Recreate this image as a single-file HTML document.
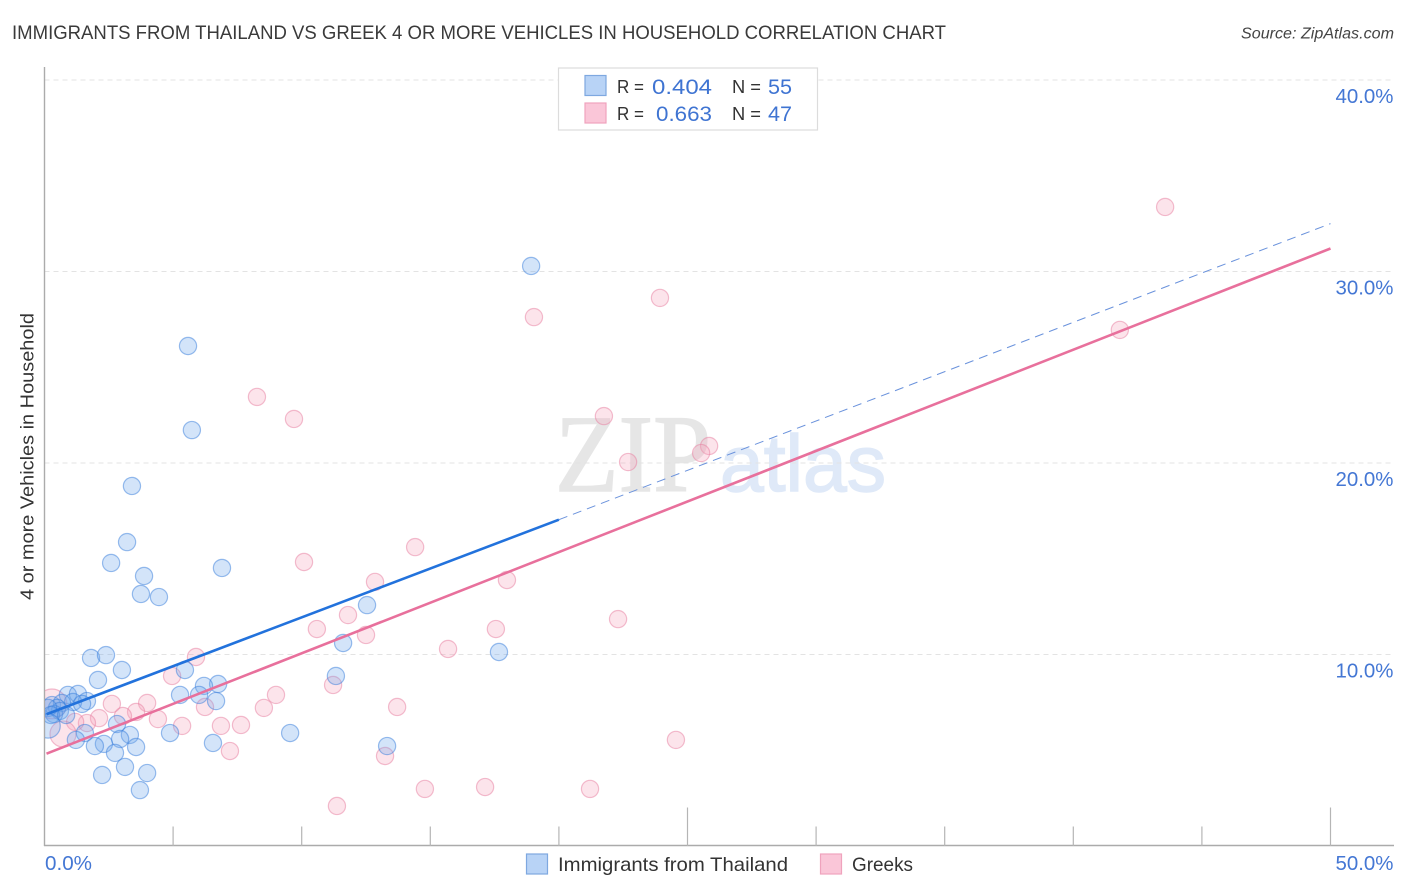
<!DOCTYPE html>
<html lang="en">
<head>
<meta charset="utf-8">
<title>Immigrants from Thailand vs Greek 4 or more Vehicles in Household Correlation Chart</title>
<style>
html,body{margin:0;padding:0;background:#fff;width:1406px;height:892px;overflow:hidden}
svg{display:block;font-family:"Liberation Sans",sans-serif}
</style>
</head>
<body>
<svg id="chart" width="1406" height="892" viewBox="0 0 1406 892" xmlns="http://www.w3.org/2000/svg">
  <defs>
    <clipPath id="plot-clip"><rect x="45" y="60" width="1349" height="786"/></clipPath>
  </defs>
  <text x="12" y="39" font-size="19.5" fill="#3a3a3a" textLength="934" lengthAdjust="spacingAndGlyphs">IMMIGRANTS FROM THAILAND VS GREEK 4 OR MORE VEHICLES IN HOUSEHOLD CORRELATION CHART</text>
  <text x="1241" y="38.500" font-size="15.500" font-style="italic" fill="#444" textLength="153" lengthAdjust="spacingAndGlyphs">Source: ZipAtlas.com</text>
  <g>
    <text x="555" y="491" font-family="'Liberation Serif',serif" font-size="110" fill="#e6e6e6" stroke="#e6e6e6" stroke-width="1.500" textLength="156" lengthAdjust="spacingAndGlyphs">ZIP</text>
    <text x="720" y="491" font-size="80" fill="#dfe9f8" stroke="#dfe9f8" stroke-width="1.500" textLength="166" lengthAdjust="spacingAndGlyphs">atlas</text>
  </g>
  <g id="grid"></g>
  <g id="axes"></g>
  <g id="points" clip-path="url(#plot-clip)"></g>
  <g id="trends"></g>
  <text transform="translate(33.500,600) rotate(-90)" x="0" y="0" font-size="18.500" fill="#333" textLength="287" lengthAdjust="spacingAndGlyphs">4 or more Vehicles in Household</text>
  <g>
    <rect x="558.500" y="68" width="259" height="62" fill="#fff" stroke="#dcdcdc" stroke-width="1.200"/>
    <rect x="585" y="75.500" width="21" height="20" fill="#b8d3f6" stroke="#7ea8e0" stroke-width="1.200"/>
    <rect x="585" y="103" width="21" height="20" fill="#fac6d8" stroke="#efa3bd" stroke-width="1.200"/>
    <text x="617" y="93" font-size="18.500" fill="#333" textLength="27" lengthAdjust="spacingAndGlyphs">R =</text>
    <text x="652" y="94" font-size="21" fill="#3f74d2" textLength="60" lengthAdjust="spacingAndGlyphs">0.404</text>
    <text x="732" y="93" font-size="18.500" fill="#333" textLength="29" lengthAdjust="spacingAndGlyphs">N =</text>
    <text x="768" y="94" font-size="21" fill="#3f74d2" textLength="24" lengthAdjust="spacingAndGlyphs">55</text>
    <text x="617" y="120" font-size="18.500" fill="#333" textLength="27" lengthAdjust="spacingAndGlyphs">R =</text>
    <text x="656" y="121" font-size="21" fill="#3f74d2" textLength="56" lengthAdjust="spacingAndGlyphs">0.663</text>
    <text x="732" y="120" font-size="18.500" fill="#333" textLength="29" lengthAdjust="spacingAndGlyphs">N =</text>
    <text x="768" y="121" font-size="21" fill="#3f74d2" textLength="24" lengthAdjust="spacingAndGlyphs">47</text>
  </g>
  <g>
    <rect x="526.500" y="854" width="21" height="20" fill="#b8d3f6" stroke="#7ea8e0" stroke-width="1.200"/>
    <text x="558" y="871" font-size="19.500" fill="#333" textLength="230" lengthAdjust="spacingAndGlyphs">Immigrants from Thailand</text>
    <rect x="820.500" y="854" width="21" height="20" fill="#fac6d8" stroke="#efa3bd" stroke-width="1.200"/>
    <text x="852" y="871" font-size="19.500" fill="#333" textLength="61" lengthAdjust="spacingAndGlyphs">Greeks</text>
  </g>
</svg>
<script>
const categories = ['Immigrants from Thailand', 'Greeks'];
const xTickValues = [0, 5, 10, 15, 20, 25, 30, 35, 40, 45, 50];
const xMajorTicks = [25, 50];
const xEndLabels = [0, 50];
const xEndLabelText = ['0.0%', '50.0%'];
const yTickValues = [10, 20, 30, 40];
const yTickLabels = ['10.0%', '20.0%', '30.0%', '40.0%'];

const thailandX = [18.92,5.58,5.73,3.40,3.21,2.59,6.90,3.87,3.75,4.45,12.54,11.61,1.81,2.39,17.67,3.01,5.46,11.33,2.08,6.75,6.20,0.91,1.30,5.27,6.01,6.67,1.65,1.11,1.46,0.29,0.68,0.49,0.60,0.37,2.82,1.57,4.88,9.55,3.32,2.94,3.56,1.22,2.31,1.96,6.55,13.32,2.74,3.13,3.99,2.24,3.71,0.14,0.25,0.84,0.14];
const thailandY = [30.29,26.11,21.72,18.80,15.87,14.78,14.52,14.10,13.16,13.00,12.58,10.60,9.82,9.97,10.13,9.19,9.19,8.88,8.67,8.46,8.36,7.89,7.94,7.89,7.89,7.57,7.57,7.52,7.42,7.36,7.47,7.21,7.05,6.89,6.37,5.90,5.90,5.90,5.80,5.59,5.17,5.54,5.33,5.22,5.38,5.22,4.86,4.13,3.81,3.71,2.92,7.21,6.84,6.84,6.27];
const thailandWeight = [1,1,1,1,1,1,1,1,1,1,1,1,1,1,1,1,1,1,1,1,1,1,1,1,1,1,1,1,1,1,1,1,1,1,1,1,1,1,1,1,1,1,1,1,1,1,1,1,1,1,1,1,1,1,2];

const greeksX = [43.57,23.93,19.03,41.81,8.26,9.70,21.75,25.84,25.53,22.69,14.41,10.09,17.98,12.85,11.80,22.30,10.59,17.55,12.50,15.69,5.89,4.96,11.22,9.00,3.99,2.62,6.24,8.53,13.71,3.56,3.05,2.12,1.65,4.41,1.19,5.35,6.86,7.64,24.55,7.21,13.24,14.79,17.13,21.21,11.37,0.29,0.72];
const greeksY = [33.37,28.62,27.62,26.95,23.45,22.30,22.45,20.89,20.52,20.05,15.61,14.83,13.89,13.79,12.06,11.85,11.33,11.33,11.02,10.29,9.87,8.88,8.41,7.89,7.47,7.42,7.26,7.21,7.26,7.00,6.79,6.68,6.42,6.63,6.48,6.27,6.27,6.32,5.54,4.96,4.70,2.98,3.08,2.98,2.09,7.42,5.85];
const greeksWeight = [1,1,1,1,1,1,1,1,1,1,1,1,1,1,1,1,1,1,1,1,1,1,1,1,1,1,1,1,1,1,1,1,1,1,1,1,1,1,1,1,1,1,1,1,1,3,2.300];

const thailandTrendX = [0, 20, 50];
const thailandTrendY = [6.84, 17.04, 32.5];
const greeksTrendX = [0, 50];
const greeksTrendY = [4.78, 31.2];

const NS = 'http://www.w3.org/2000/svg';
const plot = { left: 44.5, right: 1330.5, bottom: 846, top: 80, xMax: 50, yMax: 40 };
function xScale(v) { return plot.left + v / plot.xMax * (plot.right - plot.left); }
function yScale(v) { return plot.bottom - v / plot.yMax * (plot.bottom - plot.top); }
function rScale(w) { return 8.6 * Math.sqrt(w); }
function make(tag, parent, attrs) {
  const el = document.createElementNS(NS, tag);
  for (const k in attrs) el.setAttribute(k, attrs[k]);
  parent.appendChild(el);
  return el;
}
const grid = document.getElementById('grid');
const axes = document.getElementById('axes');
const points = document.getElementById('points');
const trends = document.getElementById('trends');

yTickValues.forEach(function (v, i) {
  const line = make('line', grid, { x1: 44.5, x2: 1394, y1: yScale(v), y2: yScale(v), stroke: '#e3e3e3', 'stroke-width': 1, 'stroke-dasharray': '5 4' });
  
  
  const label = make('text', axes, { x: 1393.5, y: yScale(v) + 23, 'text-anchor': 'end', 'font-size': 20, fill: '#4477d4', textLength: 58, lengthAdjust: 'spacingAndGlyphs' });
  
  
  label.textContent = yTickLabels[i];
});

const yAxisLine = make('line', axes, { x1: 44.5, x2: 44.5, y1: 67, y2: 846, stroke: '#ababab', 'stroke-width': 1.4 });


const xAxisLine = make('line', axes, { x1: 44, x2: 1394, y1: 845.5, y2: 845.5, stroke: '#ababab', 'stroke-width': 1.4 });



xTickValues.forEach(function (v) {
  if (v === 0) return;
  const top = xMajorTicks.indexOf(v) >= 0 ? 807.5 : 826.5;
  const tick = make('line', axes, { x1: xScale(v), x2: xScale(v), y1: top, y2: 846, stroke: '#b5b5b5', 'stroke-width': 1.2 });
  
  
});

xEndLabels.forEach(function (v, i) {
  const label = make('text', axes, { x: i === 0 ? 45 : 1393.5, y: 870, 'text-anchor': i === 0 ? 'start' : 'end', 'font-size': 20, fill: '#4477d4', textLength: i === 0 ? 47 : 58, lengthAdjust: 'spacingAndGlyphs' });
  
  
  label.textContent = xEndLabelText[i];
});

function drawSeries(xs, ys, ws, fill, stroke, name) {
  xs.forEach(function (x, i) {
    const c = make('circle', points, { cx: xScale(x), cy: yScale(ys[i]), r: rScale(ws[i]), fill: fill, stroke: stroke, 'stroke-width': 1.2 });
    
    
  });
}
drawSeries(greeksX, greeksY, greeksWeight, 'rgba(244,165,190,0.30)', 'rgba(232,125,160,0.50)', 'greeks');
drawSeries(thailandX, thailandY, thailandWeight, 'rgba(110,165,235,0.30)', 'rgba(55,125,220,0.50)', 'thailand');

const pinkTrend = make('line', trends, { x1: xScale(greeksTrendX[0]) + 2, y1: yScale(greeksTrendY[0] + 0.04), x2: xScale(greeksTrendX[1]), y2: yScale(greeksTrendY[1]), stroke: '#e8709c', 'stroke-width': 2.6 });


const blueSolid = make('line', trends, { x1: xScale(thailandTrendX[0]) + 2, y1: yScale(thailandTrendY[0] + 0.04), x2: xScale(thailandTrendX[1]), y2: yScale(thailandTrendY[1]), stroke: '#2272dc', 'stroke-width': 2.6 });


const blueDash = make('line', trends, { x1: xScale(thailandTrendX[1]), y1: yScale(thailandTrendY[1]), x2: xScale(thailandTrendX[2]), y2: yScale(thailandTrendY[2]), stroke: '#6a92dc', 'stroke-width': 1, 'stroke-dasharray': '9 6' });


</script>
</body>
</html>
